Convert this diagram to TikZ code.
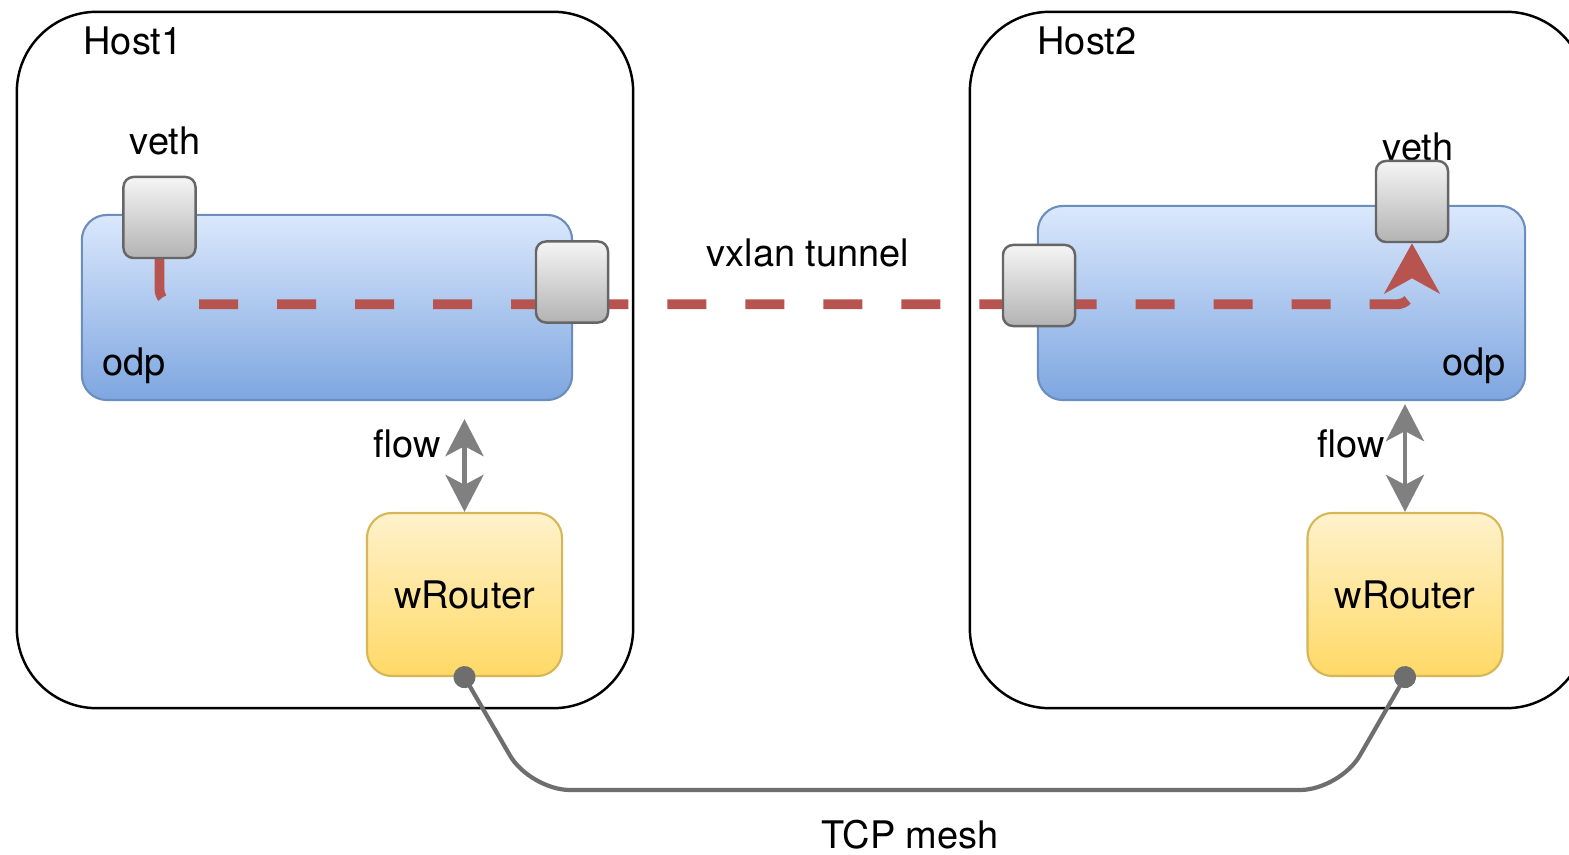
\documentclass[tikz,border=0pt]{standalone}
\usepackage{fontspec}
\setmainfont{TeX Gyre Heros}
\usetikzlibrary{arrows.meta}

\definecolor{odpline}{HTML}{6C8EBF}
\definecolor{odptop}{HTML}{DAE8FC}
\definecolor{odpbot}{HTML}{7EA6E0}
\definecolor{portline}{HTML}{666666}
\definecolor{porttop}{HTML}{F5F5F5}
\definecolor{portbot}{HTML}{B3B3B3}
\definecolor{routerline}{HTML}{D6B656}
\definecolor{routertop}{HTML}{FFF2CC}
\definecolor{routerbot}{HTML}{FFD966}
\definecolor{tunred}{HTML}{B85450}
\definecolor{flowgray}{HTML}{808080}
\definecolor{meshgray}{HTML}{6E6E6E}

\pgfdeclarelayer{bg}
\pgfdeclarelayer{mid}
\pgfsetlayers{bg,mid,main}

\begin{document}
\begin{tikzpicture}[x=0.01cm, y=-0.01cm, every node/.style={font=\fontsize{10.8}{13}\selectfont},
    host/.style={draw, line width=0.7pt, rounded corners=0.8cm, minimum width=6.16cm, minimum height=6.96cm},
    odp/.style={draw=odpline, line width=0.6pt, rounded corners=0.25cm, top color=odptop, bottom color=odpbot, minimum height=1.85cm},
    port/.style={draw=portline, line width=0.7pt, rounded corners=0.1cm, top color=porttop, bottom color=portbot, minimum width=0.72cm, minimum height=0.81cm},
    router/.style={draw=routerline, line width=0.6pt, rounded corners=0.25cm, top color=routertop, bottom color=routerbot, minimum width=1.95cm, minimum height=1.63cm},
    tunnel/.style={draw=tunred, line width=2.8pt, dash pattern=on 3.9mm off 3.9mm, rounded corners=0.15cm, -{Stealth[length=5mm,width=5.5mm,inset=1.5mm]}},
    flow/.style={draw=flowgray, line width=1.4pt, {Stealth[length=3.7mm,width=3.8mm,inset=1mm]}-{Stealth[length=3.7mm,width=3.8mm,inset=1mm]}},
    mesh/.style={draw=meshgray, line width=1.2pt, rounded corners=0.4cm, {Circle[length=2.2mm]}-{Circle[length=2.2mm]}, shorten <=-1.1mm, shorten >=-1.1mm}]
    \useasboundingbox (0,0) rectangle (1569,855);

    \begin{pgfonlayer}{bg}
        \node[host] (host1) at (325,360) {};
        \node[host] (host2) at (1278,360) {};
        \node[odp, minimum width=4.9cm] (odp1) at (327,307.5) {};
        \node[odp, minimum width=4.87cm, minimum height=1.94cm] (odp2) at (1281.5,303) {};
    \end{pgfonlayer}

    \node (host1lbl) at (133,41) {Host1};
    \node (host2lbl) at (1087,41) {Host2};
    \node (veth1lbl) at (165,141) {veth};
    \node (veth2lbl) at (1418,147) {veth};
    \node (odp1lbl) at (134,366) {odp};
    \node (odp2lbl) at (1474,366) {odp};
    \node (tunlbl) at (808,253) {vxlan tunnel};

    \node[port] (veth1) at (159.5,217.5) {};
    \node[port] (tun1) at (572,282) {};
    \node[port] (tun2) at (1039,285.5) {};
    \node[port] (veth2) at (1412,201.5) {};

    \begin{pgfonlayer}{mid}
        \draw[tunnel] (veth1.south) -- ++(0,45) -| (veth2.south);
    \end{pgfonlayer}

    \node[router] (router1) at (464.5,594.5) {wRouter};
    \node[router] (router2) at (1405,594.5) {wRouter};

    \node (flow1lbl) at (407,444) {flow};
    \node (flow2lbl) at (1351,444) {flow};
    \draw[flow, shorten <=1.8mm] (router1.north |- odp1.south) -- (router1.north);
    \draw[flow, shorten <=0.3mm] (router2.north |- odp2.south) -- (router2.north);

    \draw[mesh] (router1.south) -- (530,790) -- (1340,790) -- (router2.south);
    \node (meshlbl) at (910,835) {TCP mesh};
\end{tikzpicture}
\end{document}
